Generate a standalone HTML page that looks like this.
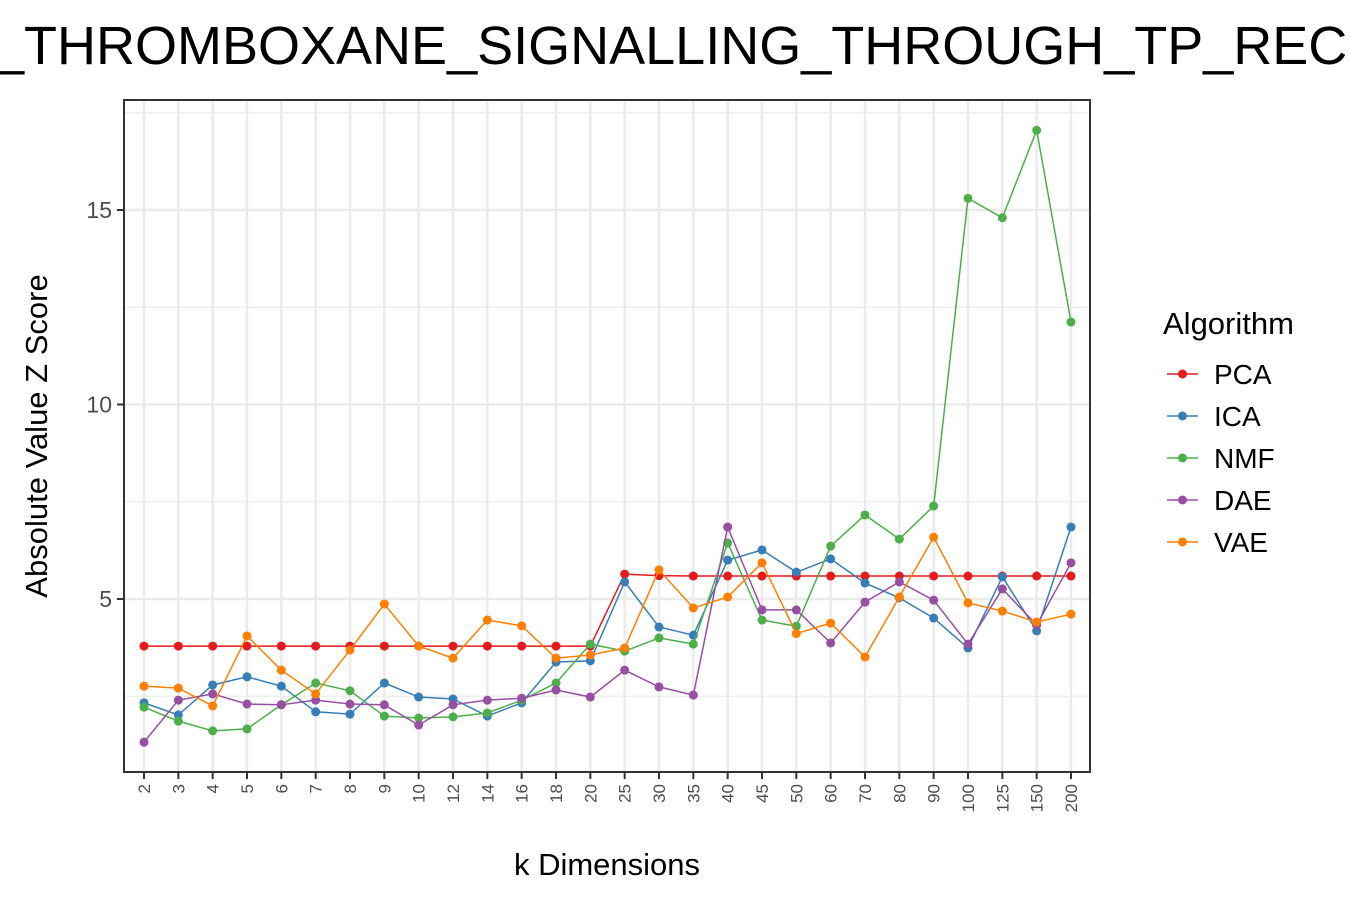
<!DOCTYPE html>
<html><head><meta charset="utf-8"><style>
body{margin:0;background:#fff;}
svg{display:block;font-family:"Liberation Sans",Arial,sans-serif;}
</style></head><body>
<svg id="chart" width="1350" height="900">
<text x="-6" y="64" font-size="54" fill="#000">_THROMBOXANE_SIGNALLING_THROUGH_TP_RECEPTOR</text>
<g id="grid"></g><g id="series"></g><g id="axes"></g>
<rect x="124" y="100" width="966" height="672" fill="none" stroke="#333" stroke-width="2"/>
<text x="607" y="875" font-size="31" text-anchor="middle" fill="#000">k Dimensions</text>
<text transform="translate(47,436) rotate(-90)" font-size="31" text-anchor="middle" fill="#000">Absolute Value Z Score</text>
<g id="legend"></g>
</svg>
<script>
const categories=["2","3","4","5","6","7","8","9","10","12","14","16","18","20","25","30","35","40","45","50","60","70","80","90","100","125","150","200"];
const seriesNames=["PCA","ICA","NMF","DAE","VAE"];
const colors=["#e41a1c","#377eb8","#4daf4a","#984ea3","#ff7f00"];
const pca=[3.79,3.79,3.79,3.79,3.79,3.79,3.79,3.79,3.79,3.79,3.79,3.79,3.79,3.79,5.64,5.6,5.59,5.59,5.59,5.59,5.59,5.59,5.59,5.59,5.59,5.59,5.59,5.59];
const ica=[2.33,2.02,2.79,3.0,2.76,2.10,2.04,2.84,2.48,2.43,1.99,2.33,3.38,3.41,5.44,4.28,4.07,6.0,6.26,5.69,6.03,5.41,5.03,4.51,3.74,5.57,4.18,6.85];
const nmf=[2.22,1.86,1.61,1.66,2.28,2.84,2.64,1.99,1.94,1.97,2.07,2.40,2.84,3.84,3.66,4.0,3.84,6.44,4.46,4.30,6.36,7.16,6.54,7.39,15.3,14.8,17.05,12.12];
const dae=[1.32,2.40,2.56,2.30,2.28,2.40,2.30,2.28,1.76,2.28,2.40,2.45,2.66,2.48,3.17,2.74,2.53,6.85,4.72,4.72,3.87,4.92,5.44,4.97,3.84,5.26,4.33,5.93];
const vae=[2.76,2.71,2.25,4.05,3.17,2.56,3.69,4.87,3.79,3.48,4.46,4.31,3.48,3.56,3.74,5.75,4.77,5.05,5.93,4.11,4.38,3.51,5.05,6.59,4.90,4.69,4.41,4.61];
const yTicks=[5,10,15];
const yMinor=[2.5,7.5,12.5,17.5];
const allSeries=[pca,ica,nmf,dae,vae];
const NS="http://www.w3.org/2000/svg";
const X0=144,X1=1071;
function xs(i){return X0+i*(X1-X0)/(categories.length-1);}
function ys(v){return 599-(v-5)*38.9;}
function mk(tag,attrs,parent){const e=document.createElementNS(NS,tag);for(const k in attrs)e.setAttribute(k,attrs[k]);document.getElementById(parent).appendChild(e);return e;}
yMinor.forEach(v=>{const l=mk('line',{x1:124,x2:1090,y1:ys(v),y2:ys(v),stroke:'#ebebeb','stroke-width':1.2},'grid');

});
yTicks.forEach(v=>{const l=mk('line',{x1:124,x2:1090,y1:ys(v),y2:ys(v),stroke:'#ebebeb','stroke-width':2.5},'grid');


const t=mk('line',{x1:117,x2:124,y1:ys(v),y2:ys(v),stroke:'#333','stroke-width':2},'axes');


const tx=mk('text',{x:112,y:ys(v)+8,'font-size':23,'text-anchor':'end',fill:'#4d4d4d'},'axes');tx.textContent=v;

});
categories.forEach((c,i)=>{const l=mk('line',{x1:xs(i),x2:xs(i),y1:100,y2:772,stroke:'#ebebeb','stroke-width':2.5},'grid');


const t=mk('line',{x1:xs(i),x2:xs(i),y1:772,y2:779,stroke:'#333','stroke-width':2},'axes');


const tx=mk('text',{transform:`translate(${xs(i)+6},784) rotate(-90)`,'font-size':17,'text-anchor':'end',fill:'#4d4d4d'},'axes');tx.textContent=c;

});
allSeries.forEach((s,k)=>{const pts=s.map((v,i)=>xs(i)+','+ys(v)).join(' ');
const pl=mk('polyline',{points:pts,fill:'none',stroke:colors[k],'stroke-width':1.5},'series');


s.forEach((v,i)=>{const c=mk('circle',{cx:xs(i),cy:ys(v),r:4.5,fill:colors[k]},'series');

});});
const lt=mk('text',{x:1163,y:334,'font-size':31,fill:'#000'},'legend');lt.textContent='Algorithm';


seriesNames.forEach((n,k)=>{const y=374+k*42;
const l=mk('line',{x1:1167,x2:1198,y1:y,y2:y,stroke:colors[k],'stroke-width':1.5},'legend');


const c=mk('circle',{cx:1182.5,cy:y,r:4.5,fill:colors[k]},'legend');


const t=mk('text',{x:1214,y:y+10,'font-size':28,fill:'#000'},'legend');t.textContent=n;

});
</script>
</body></html>
